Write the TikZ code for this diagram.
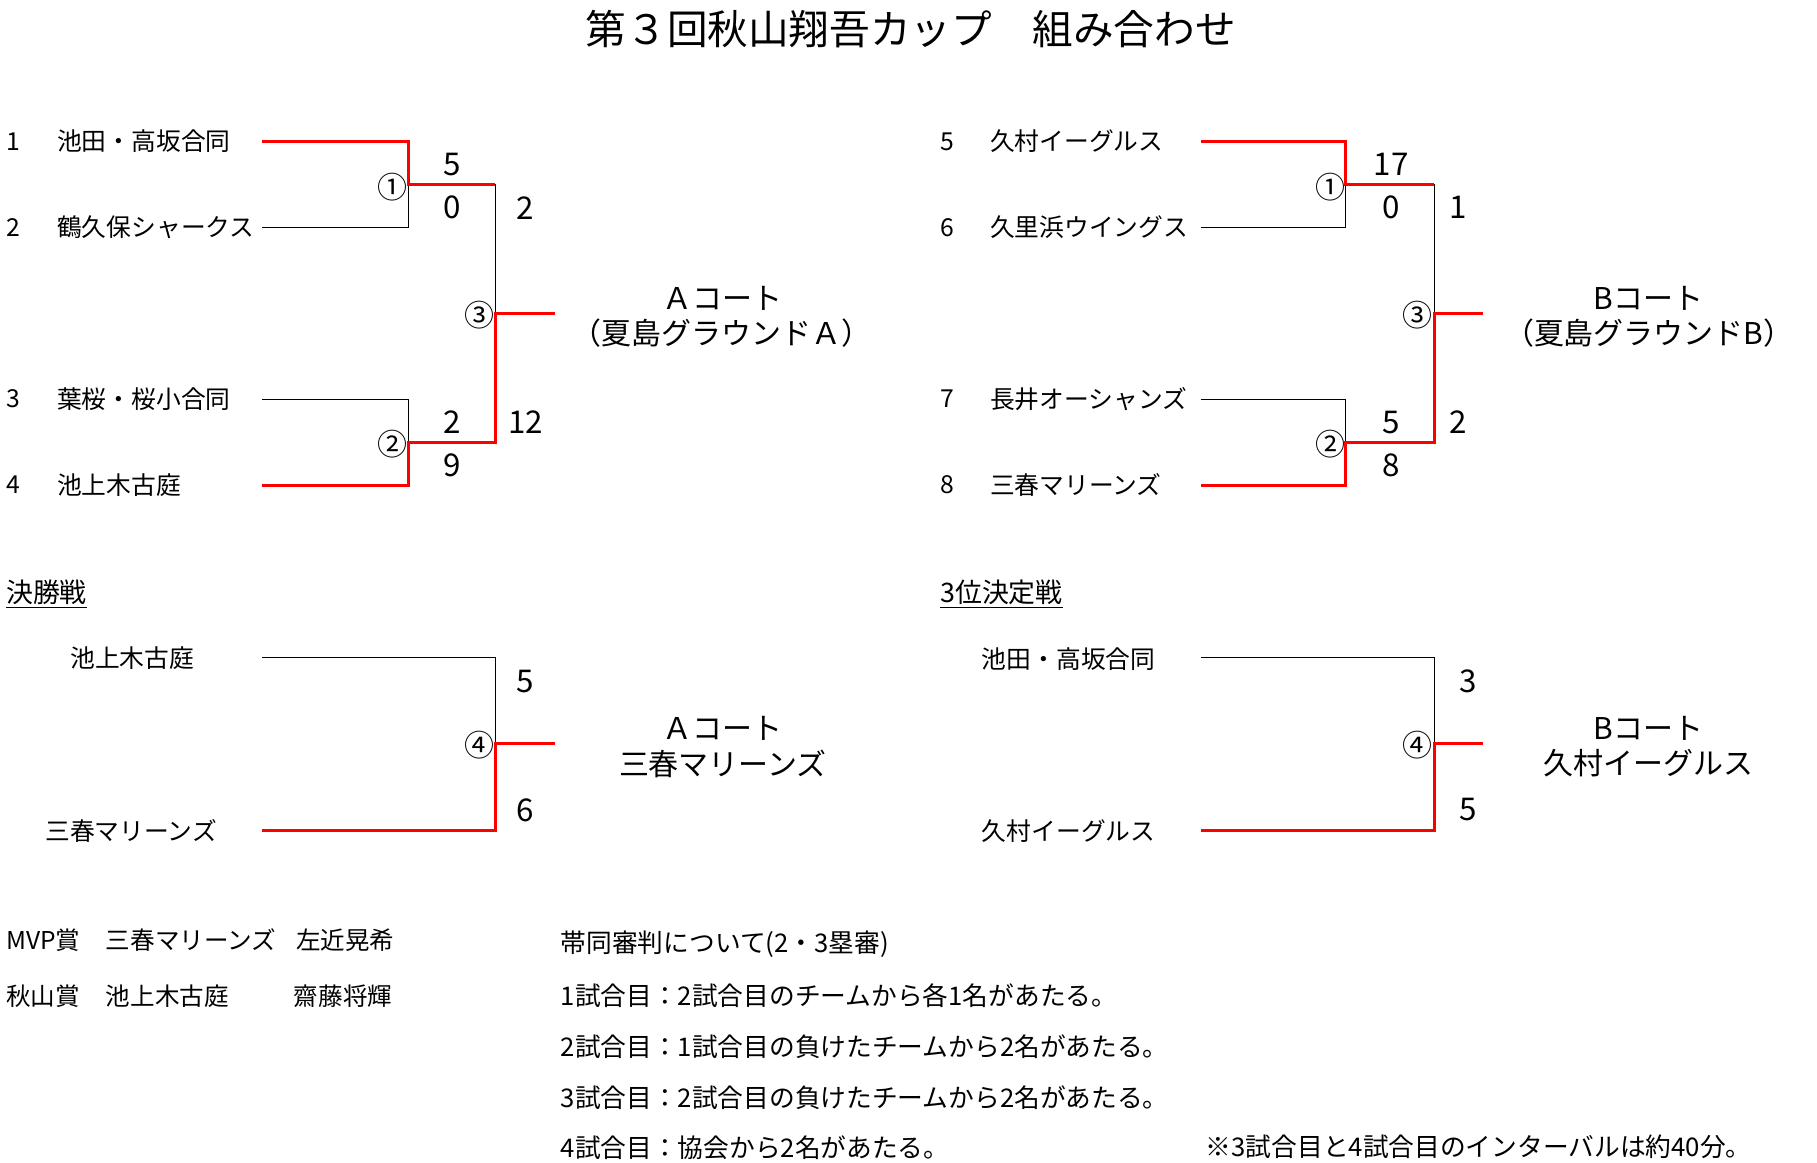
\documentclass[tikz,border=0pt]{standalone}
\usepackage{fontspec}
\setmainfont{Noto Sans CJK JP}
\begin{document}
\begin{tikzpicture}[x=0.6pt,y=-0.6pt,
  lose/.style={line width=0.5pt,black},
  win/.style={line width=1.55pt,red,line join=miter},
  team/.style={anchor=west,inner sep=0pt,font=\fontsize{12.8pt}{14pt}\selectfont},
  cteam/.style={inner sep=0pt,font=\fontsize{12.8pt}{14pt}\selectfont},
  head/.style={anchor=west,inner sep=0pt,font=\fontsize{13.9pt}{15pt}\selectfont},
  score/.style={inner sep=0pt,font=\fontsize{16.2pt}{18pt}\selectfont},
  circ/.style={inner sep=0pt,font=\fontsize{15.5pt}{17pt}\selectfont},
  court/.style={inner sep=0pt,font=\fontsize{15.5pt}{18pt}\selectfont},
  award/.style={anchor=west,inner sep=0pt,font=\fontsize{12.7pt}{14pt}\selectfont},
  note/.style={anchor=west,inner sep=0pt,font=\fontsize{13.3pt}{15pt}\selectfont},
  ttl/.style={inner sep=0pt,font=\fontsize{21pt}{24pt}\selectfont},
]
\useasboundingbox (0,0) rectangle (1566,1002.3);

% title
\node[ttl] (title) at (785,25) {第３回秋山翔吾カップ　組み合わせ};

% ---------- left bracket coordinates ----------
\coordinate (L1s) at (226,122); \coordinate (L1c) at (352,122);
\coordinate (L2s) at (226,196); \coordinate (L2c) at (352,196);
\coordinate (L3s) at (226,344); \coordinate (L3c) at (352,344);
\coordinate (L4s) at (226,418); \coordinate (L4c) at (352,418);
\coordinate (Lj1) at (352,159); \coordinate (Lj1e) at (427,159);
\coordinate (Lj2) at (352,381); \coordinate (Lj2e) at (427,381);
\coordinate (Lj3) at (427,270); \coordinate (Lout) at (478,270);
\draw[lose] (L2s) -- (L2c) -- (Lj1);
\draw[lose] (L3s) -- (L3c) -- (Lj2);
\draw[lose] (Lj1e) -- (Lj3);
\draw[win] (L1s) -- (L1c) -- (Lj1) -- (Lj1e);
\draw[win] (L4s) -- (L4c) -- (Lj2) -- (Lj2e) -- (Lj3) -- (Lout);

% ---------- right bracket coordinates ----------
\coordinate (R1s) at (1035,122); \coordinate (R1c) at (1160,122);
\coordinate (R2s) at (1035,196); \coordinate (R2c) at (1160,196);
\coordinate (R3s) at (1035,344); \coordinate (R3c) at (1160,344);
\coordinate (R4s) at (1035,418); \coordinate (R4c) at (1160,418);
\coordinate (Rj1) at (1160,159); \coordinate (Rj1e) at (1236,159);
\coordinate (Rj2) at (1160,381); \coordinate (Rj2e) at (1236,381);
\coordinate (Rj3) at (1236,270); \coordinate (Rout) at (1278,270);
\draw[lose] (R2s) -- (R2c) -- (Rj1);
\draw[lose] (R3s) -- (R3c) -- (Rj2);
\draw[lose] (Rj1e) -- (Rj3);
\draw[win] (R1s) -- (R1c) -- (Rj1) -- (Rj1e);
\draw[win] (R4s) -- (R4c) -- (Rj2) -- (Rj2e) -- (Rj3) -- (Rout);

% ---------- final ----------
\coordinate (F1s) at (226,567); \coordinate (F1c) at (427,567);
\coordinate (F2s) at (226,716); \coordinate (F2c) at (427,716);
\coordinate (Fj) at (427,641); \coordinate (Fout) at (478,641);
\draw[lose] (F1s) -- (F1c) -- (Fj);
\draw[win] (F2s) -- (F2c) -- (Fj) -- (Fout);

% ---------- third place ----------
\coordinate (T1s) at (1035,567); \coordinate (T1c) at (1236,567);
\coordinate (T2s) at (1035,716); \coordinate (T2c) at (1236,716);
\coordinate (Tj) at (1236,641); \coordinate (Tout) at (1278,641);
\draw[lose] (T1s) -- (T1c) -- (Tj);
\draw[win] (T2s) -- (T2c) -- (Tj) -- (Tout);

% ---------- left teams ----------
\node[team] (n1) at (5,122) {1};
\node[team] (n2) at (5,196) {2};
\node[team] (n3) at (5,344) {3};
\node[team] (n4) at (5,418) {4};
\node[team] (t1) at (49,122) {池田・高坂合同};
\node[team] (t2) at (49,196) {鶴久保シャークス};
\node[team] (t3) at (49,344) {葉桜・桜小合同};
\node[team] (t4) at (49,418) {池上木古庭};

% ---------- right teams ----------
\node[team] (n5) at (810,122) {5};
\node[team] (n6) at (810,196) {6};
\node[team] (n7) at (810,344) {7};
\node[team] (n8) at (810,418) {8};
\node[team] (t5) at (853,122) {久村イーグルス};
\node[team] (t6) at (853,196) {久里浜ウイングス};
\node[team] (t7) at (853,344) {長井オーシャンズ};
\node[team] (t8) at (853,418) {三春マリーンズ};

% ---------- scores ----------
\node[score] (s1a) at (390,142) {5};
\node[score] (s1b) at (390,179) {0};
\node[score] (s3a) at (453,179) {2};
\node[score] (s2a) at (390,364) {2};
\node[score] (s2b) at (390,401) {9};
\node[score] (s3b) at (453,364) {12};
\node[score] (r1a) at (1199,142) {17};
\node[score] (r1b) at (1199,179) {0};
\node[score] (r3a) at (1257,179) {1};
\node[score] (r2a) at (1199,364) {5};
\node[score] (r2b) at (1199,401) {8};
\node[score] (r3b) at (1257,364) {2};
\node[score] (f1) at (453,587) {5};
\node[score] (f2) at (453,698) {6};
\node[score] (p1) at (1265,587) {3};
\node[score] (p2) at (1265,698) {5};

% ---------- game numbers ----------
\node[circ] (g1) at (338,161) {①};
\node[circ] (g2) at (338,383) {②};
\node[circ] (g3) at (413,272) {③};
\node[circ] (g4) at (413,642) {④};
\node[circ] (h1) at (1147,161) {①};
\node[circ] (h2) at (1147,383) {②};
\node[circ] (h3) at (1222,272) {③};
\node[circ] (h4) at (1222,642) {④};

% ---------- courts ----------
\node[court] (ca1) at (623,257) {Ａコート};
\node[court] (ca2) at (622,287) {（夏島グラウンドＡ）};
\node[court] (cb1) at (1421,257) {Bコート};
\node[court] (cb2) at (1421,287) {（夏島グラウンドB）};
\node[court] (wa1) at (623,628) {Ａコート};
\node[court] (wa2) at (623,658) {三春マリーンズ};
\node[court] (wb1) at (1421,628) {Bコート};
\node[court] (wb2) at (1421,658) {久村イーグルス};

% ---------- section headings ----------
\node[head] (hf) at (5,512) {\underline{決勝戦}};
\node[head] (hp) at (810,512) {\underline{3位決定戦}};

% ---------- lower teams ----------
\node[cteam] (ft1) at (114,567) {池上木古庭};
\node[cteam] (ft2) at (113,716) {三春マリーンズ};
\node[cteam] (pt1) at (921,568) {池田・高坂合同};
\node[cteam] (pt2) at (921,716) {久村イーグルス};

% ---------- awards ----------
\node[award] (m1) at (5,810) {MVP賞};
\node[award] (m2) at (91,810) {三春マリーンズ};
\node[award] (m3) at (255,810) {左近晃希};
\node[award] (a1) at (5,859) {秋山賞};
\node[award] (a2) at (91,859) {池上木古庭};
\node[award] (a3) at (253,859) {齋藤将輝};

% ---------- notes ----------
\node[note] (u0) at (483,814) {帯同審判について(2・3塁審)};
\node[note] (u1) at (483,858.5) {1試合目：2試合目のチームから各1名があたる。};
\node[note] (u2) at (483,902) {2試合目：1試合目の負けたチームから2名があたる。};
\node[note] (u3) at (483,946) {3試合目：2試合目の負けたチームから2名があたる。};
\node[note] (u4) at (483,989) {4試合目：協会から2名があたる。};
\node[note] (u5) at (1039,988) {※3試合目と4試合目のインターバルは約40分。};
\end{tikzpicture}
\end{document}
